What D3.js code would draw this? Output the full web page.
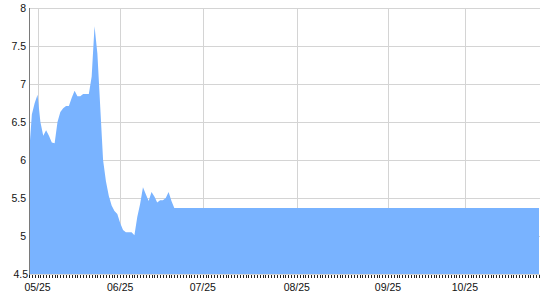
<!DOCTYPE html>
<html>
<head>
<meta charset="utf-8">
<script src="https://cdn.jsdelivr.net/npm/d3@7/dist/d3.min.js"></script>
<style>
  body { margin: 0; background: #fff; }
  svg { display: block; font-family: "Liberation Sans", Arial, sans-serif; }
  .grid line { stroke: #d4d4d4; stroke-width: 1; shape-rendering: crispEdges; }
  .lbl { font-size: 10.5px; fill: #111; }
</style>
</head>
<body>
<svg id="chart" width="540" height="300"></svg>
<script>
// values, one per point
var values = [
  6.07, 6.60, 6.75, 6.86, 6.50, 6.32, 6.39, 6.32, 6.23, 6.22,
  6.50, 6.63, 6.68, 6.71, 6.71, 6.82, 6.91, 6.84, 6.84, 6.87,
  6.87, 6.87, 7.10, 7.76, 7.40, 6.70, 6.00, 5.72, 5.53, 5.40,
  5.33, 5.29, 5.17, 5.08, 5.05, 5.05, 5.05, 5.01, 5.25, 5.42,
  5.64, 5.55, 5.46, 5.58, 5.52, 5.44, 5.47, 5.47, 5.50, 5.58,
  5.46, 5.37, 5.37, 5.37, 5.37, 5.37, 5.37, 5.37, 5.37, 5.37,
  5.37, 5.37, 5.37, 5.37, 5.37, 5.37, 5.37, 5.37, 5.37, 5.37,
  5.37, 5.37, 5.37, 5.37, 5.37, 5.37, 5.37, 5.37, 5.37, 5.37,
  5.37, 5.37, 5.37, 5.37, 5.37, 5.37, 5.37, 5.37, 5.37, 5.37,
  5.37, 5.37, 5.37, 5.37, 5.37, 5.37, 5.37, 5.37, 5.37, 5.37,
  5.37, 5.37, 5.37, 5.37, 5.37, 5.37, 5.37, 5.37, 5.37, 5.37,
  5.37, 5.37, 5.37, 5.37, 5.37, 5.37, 5.37, 5.37, 5.37, 5.37,
  5.37, 5.37, 5.37, 5.37, 5.37, 5.37, 5.37, 5.37, 5.37, 5.37,
  5.37, 5.37, 5.37, 5.37, 5.37, 5.37, 5.37, 5.37, 5.37, 5.37,
  5.37, 5.37, 5.37, 5.37, 5.37, 5.37, 5.37, 5.37, 5.37, 5.37,
  5.37, 5.37, 5.37, 5.37, 5.37, 5.37, 5.37, 5.37, 5.37, 5.37,
  5.37, 5.37, 5.37, 5.37, 5.37, 5.37, 5.37, 5.37, 5.37, 5.37,
  5.37, 5.37, 5.37, 5.37, 5.37, 5.37, 5.37, 5.37, 5.37, 5.37
];
// point index where each date label sits
var tickIndex = [3, 32, 61, 94, 126, 153];
var tickLabels = ["05/25", "06/25", "07/25", "08/25", "09/25", "10/25"];
var yTicks = [4.5, 5, 5.5, 6, 6.5, 7, 7.5, 8];

var plotLeft = 29, plotRight = 539, plotTop = 8, plotBottom = 274;

var svg = d3.select("#chart");

var x = d3.scaleLinear()
    .domain([0, values.length - 1])
    .range([plotLeft, plotRight]);
var y = d3.scaleLinear()
    .domain([4.5, 8])
    .range([plotBottom, plotTop]);

// grid
var grid = svg.append("g").attr("class", "grid");
grid.selectAll(".h")
    .data(yTicks)
  .enter().append("line")
    .attr("x1", plotLeft).attr("x2", plotRight + 1)
    .attr("y1", function(d) { return Math.round(y(d)) + 0.5; })
    .attr("y2", function(d) { return Math.round(y(d)) + 0.5; });
grid.selectAll(".v")
    .data(tickIndex)
  .enter().append("line")
    .attr("x1", function(d) { return Math.round(x(d)) + 0.5; })
    .attr("x2", function(d) { return Math.round(x(d)) + 0.5; })
    .attr("y1", plotTop).attr("y2", plotBottom);

// area
var area = d3.area()
    .x(function(d, i) { return x(i); })
    .y0(y(4.5))
    .y1(function(d) { return y(d); });

svg.append("path")
    .datum(values)
    .attr("d", area)
    .attr("fill", "#79b3ff");

// left axis line
svg.append("line")
    .attr("x1", plotLeft + 0.5).attr("x2", plotLeft + 0.5)
    .attr("y1", plotTop).attr("y2", plotBottom + 1)
    .attr("stroke", "#7a7a7a")
    .attr("shape-rendering", "crispEdges");

// bottom minor ticks, one per point
svg.append("g")
    .selectAll("line")
    .data(values)
  .enter().append("line")
    .attr("x1", function(d, i) { return Math.round(x(i)) + 0.5; })
    .attr("x2", function(d, i) { return Math.round(x(i)) + 0.5; })
    .attr("y1", plotBottom + 1).attr("y2", plotBottom + 4)
    .attr("stroke", "#222")
    .attr("shape-rendering", "crispEdges");

// y labels
svg.append("g")
    .selectAll("text")
    .data(yTicks)
  .enter().append("text")
    .attr("class", "lbl")
    .attr("x", function(d) { return d === 4.5 ? 28 : 26; })
    .attr("y", function(d) { return y(d); })
    .attr("dy", "0.35em")
    .attr("text-anchor", "end")
    .text(function(d) { return d; });

// x labels
svg.append("g")
    .selectAll("text")
    .data(tickIndex)
  .enter().append("text")
    .attr("class", "lbl")
    .attr("x", function(d) { return x(d); })
    .attr("y", 291)
    .attr("text-anchor", "middle")
    .text(function(d, i) { return tickLabels[i]; });
</script>
</body>
</html>
